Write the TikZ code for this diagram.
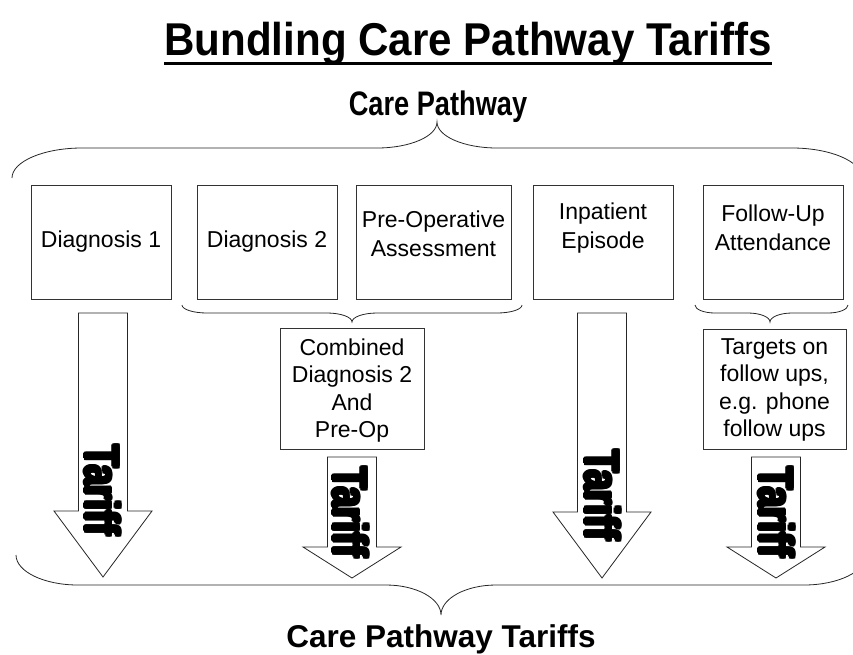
\documentclass[tikz,border=0pt]{standalone}
\usepackage{fontspec}
\usepackage{graphicx}
\setmainfont{Liberation Sans}
\newfontfamily\tarifffont{Liberation Sans Bold}

% Heavy lettering: the word set several times with small offsets
\newcommand\heavyword[1]{%
  \leavevmode
  \rlap{\kern-2.2pt#1}\rlap{\kern2.2pt#1}%
  \rlap{\raisebox{1.5pt}{#1}}\rlap{\raisebox{-1.5pt}{#1}}%
  \rlap{\kern-1.6pt\raisebox{1.1pt}{#1}}\rlap{\kern1.6pt\raisebox{1.1pt}{#1}}%
  \rlap{\kern-1.6pt\raisebox{-1.1pt}{#1}}\rlap{\kern1.6pt\raisebox{-1.1pt}{#1}}%
  \rlap{\kern-1.1pt#1}\rlap{\kern1.1pt#1}%
  #1}

% Curly brace: x-left, x-right, x-tip, y-ends, y-line, y-tip, end-curve width, tip-curve width
\newcommand\curlybrace[8]{%
  \draw[bracket] (#1,#4)
    .. controls (#1,{#5+0.45*(#4-#5)}) and ({#1+0.45*#7},#5) .. ({#1+#7},#5)
    -- ({#3-#8},#5)
    .. controls ({#3-0.45*#8},#5) and (#3,{#5+0.45*(#6-#5)}) .. (#3,#6)
    .. controls (#3,{#5+0.45*(#6-#5)}) and ({#3+0.45*#8},#5) .. ({#3+#8},#5)
    -- ({#2-#7},#5)
    .. controls ({#2-0.45*#7},#5) and (#2,{#5+0.45*(#4-#5)}) .. (#2,#4);}

% Block arrow pointing down: centre x, shaft top, head base, tip
\newcommand\blockarrow[4]{%
  \draw[block] ({#1-24.5},#2) -- ({#1+24.5},#2) -- ({#1+24.5},#3) -- ({#1+49},#3)
    -- (#1,#4) -- ({#1-49},#3) -- ({#1-24.5},#3) -- cycle;}

\begin{document}
\begin{tikzpicture}[x=1pt,y=-1pt,
  stagebox/.style={draw=black!80, line width=0.8pt, inner sep=0pt},
  stagetext/.style={align=center, inner sep=0pt, font=\fontsize{23}{29}\selectfont},
  notetext/.style={align=center, inner sep=0pt, font=\fontsize{23}{27.5}\selectfont},
  bracket/.style={draw=black!85, line width=0.8pt},
  block/.style={draw=black!85, fill=white, line width=0.8pt, line join=miter},
  tarifflabel/.style={rotate=-90, inner sep=0pt,
    font=\tarifffont\fontsize{49}{49}\selectfont}
]
\useasboundingbox (0,0) rectangle (853,654);

% Headings
\node[inner sep=0pt, anchor=base, font=\bfseries\fontsize{46}{50}\selectfont]
  (title) at (468,55) {\scalebox{0.915}[1]{Bundling Care Pathway Tariffs}};
\draw[line width=3pt] ([yshift=-8pt]title.base west) -- ([yshift=-8pt]title.base east);
\node[inner sep=0pt, anchor=base, font=\bfseries\fontsize{34}{36}\selectfont]
  (cp) at (438,115) {\scalebox{0.8}[1]{Care Pathway}};
\node[inner sep=0pt, anchor=base, font=\bfseries\fontsize{31.5}{34}\selectfont]
  (cpt) at (441,647) {Care Pathway Tariffs};

% Outer braces
\curlybrace{12}{862}{437}{178}{148}{122}{70}{60}
\curlybrace{16}{866}{441}{555}{585}{615}{62}{55}

% Pathway stages
\node[stagebox, minimum width=140pt, minimum height=114pt] (d1) at (101,242) {};
\node[stagebox, minimum width=140pt, minimum height=114pt] (d2) at (267,242) {};
\node[stagebox, minimum width=155pt, minimum height=114pt] (pre) at (433.5,242) {};
\node[stagebox, minimum width=140pt, minimum height=114pt] (inp) at (603,242) {};
\node[stagebox, minimum width=140pt, minimum height=114pt] (fu) at (773,242) {};

\node[stagetext] (d1t) at (d1.center) {Diagnosis 1};
\node[stagetext] (d2t) at (d2.center) {Diagnosis 2};
\node[stagetext] (pret) at ([yshift=8pt]pre.center) {Pre-Operative\\Assessment};
\node[stagetext] (inpt) at ([yshift=14pt]inp.center) {Inpatient\\Episode};
\node[stagetext] (fut) at ([yshift=14pt]fu.center) {Follow-Up\\Attendance};

% Grouping braces under stages
\curlybrace{182}{522}{352}{305}{313}{322}{25}{25}
\curlybrace{695}{848}{770}{305}{313}{322}{20}{22}

\node[stagebox, minimum width=144pt, minimum height=121pt] (comb) at (352,388.5) {};
\node[notetext] (combt) at ([yshift=-2pt]comb.center) {Combined\\Diagnosis 2\\And\\Pre-Op};
\node[stagebox, minimum width=143pt, minimum height=120pt] (tgt) at (774.5,389) {};
\node[notetext] (tgtt) at ([yshift=-1pt]tgt.center) {Targets on\\follow ups,\\e.g. phone\\follow ups};

% Tariff arrows
\blockarrow{103}{313}{511}{577}
\blockarrow{352}{457}{547}{578}
\blockarrow{602}{313}{512}{578}
\blockarrow{776}{457}{547}{578}

\node[tarifflabel] (t1) at (103,490) {\scalebox{0.76}[1]{\heavyword{Tariff}}};
\node[tarifflabel] (t2) at (351,512) {\scalebox{0.76}[1]{\heavyword{Tariff}}};
\node[tarifflabel] (t3) at (603,495) {\scalebox{0.76}[1]{\heavyword{Tariff}}};
\node[tarifflabel] (t4) at (777,512) {\scalebox{0.76}[1]{\heavyword{Tariff}}};
\end{tikzpicture}
\end{document}
